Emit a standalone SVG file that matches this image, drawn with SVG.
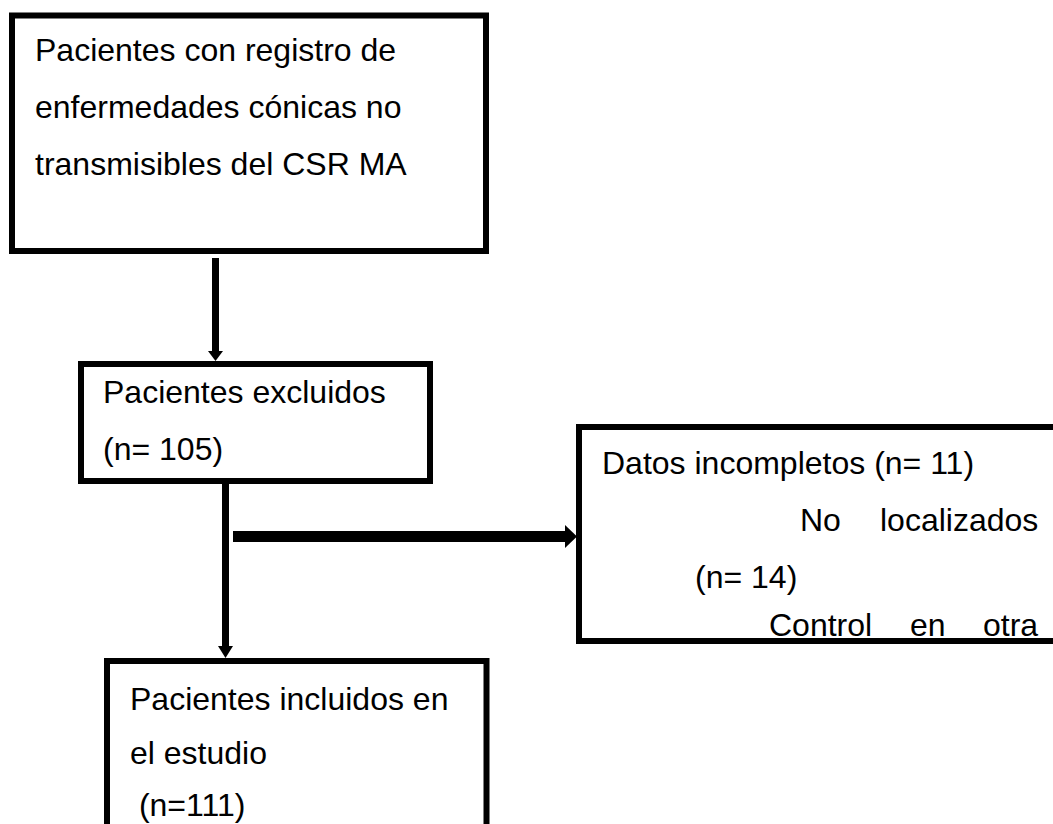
<svg xmlns="http://www.w3.org/2000/svg" width="1053" height="824" viewBox="0 0 1053 824">
<style>
.box{fill:#fff;stroke:#000;stroke-width:6}
.t{font-family:"Liberation Sans",Arial,sans-serif;font-size:32px;fill:#000}
.ln{stroke:#000;fill:none}
</style>
<rect width="1053" height="824" fill="#fff"/>
<g id="node-registro">
<rect class="box" x="12" y="15.5" width="474" height="235.5"/>
<text class="t" x="35" y="61">Pacientes con registro de</text>
<text class="t" x="35" y="118">enfermedades cónicas no</text>
<text class="t" x="35" y="175">transmisibles del CSR MA</text>
</g>
<g id="node-excluidos">
<rect class="box" x="81" y="364" width="349" height="117"/>
<text class="t" x="103" y="403">Pacientes excluidos</text>
<text class="t" x="103" y="460">(n= 105)</text>
</g>
<g id="node-motivos">
<rect class="box" x="579" y="427" width="480" height="214"/>
<text class="t" x="602" y="474">Datos incompletos (n= 11)</text>
<text class="t" x="800" y="531">No</text>
<text class="t" x="880" y="531">localizados</text>
<text class="t" x="695" y="588">(n= 14)</text>
<text class="t" x="769" y="636">Control</text>
<text class="t" x="910" y="636">en</text>
<text class="t" x="983" y="636">otra</text>
</g>
<g id="node-incluidos">
<rect class="box" x="107" y="661" width="379.5" height="180"/>
<text class="t" x="130" y="710">Pacientes incluidos en</text>
<text class="t" x="130" y="764">el estudio</text>
<text class="t" x="130" y="816" xml:space="preserve"> (n=111)</text>
</g>
<g id="connectors">
<line class="ln" x1="215.5" y1="258" x2="215.5" y2="352" stroke-width="7"/>
<polygon points="208,351 223,351 215.5,361"/>
<line class="ln" x1="225.5" y1="484" x2="225.5" y2="648" stroke-width="7"/>
<polygon points="218,646 233,646 225.5,658"/>
<line class="ln" x1="233" y1="536.5" x2="566" y2="536.5" stroke-width="11"/>
<polygon points="565,525 577,536.5 565,548"/>
</g>
</svg>
